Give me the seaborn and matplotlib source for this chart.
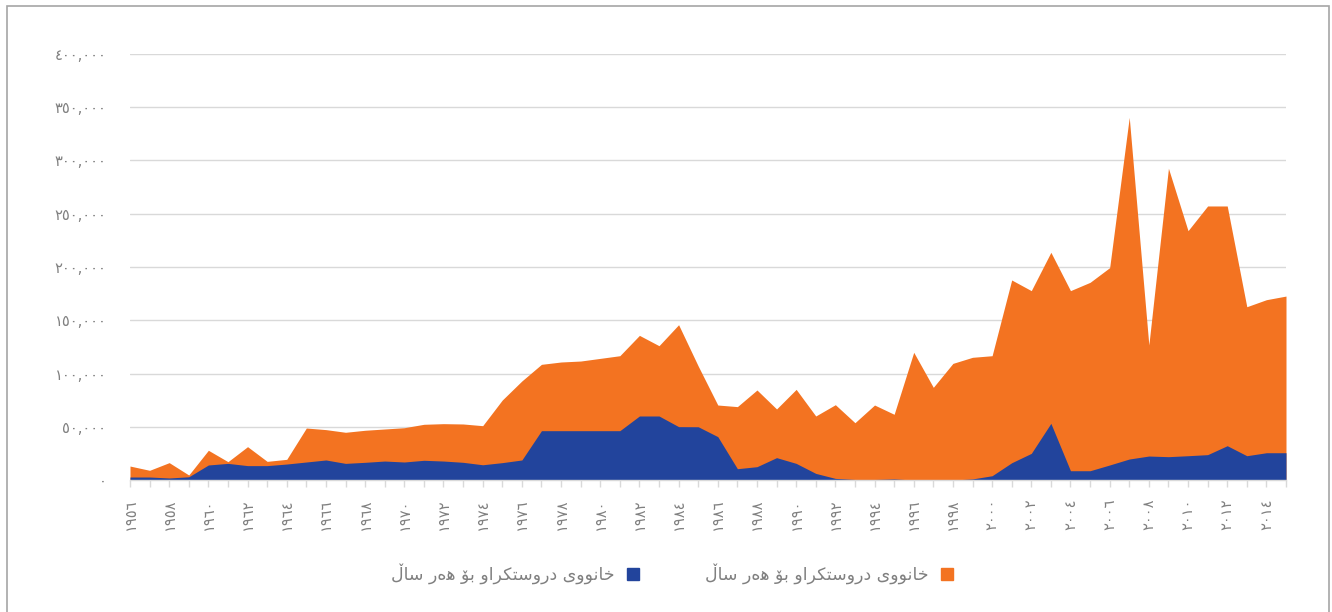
import matplotlib
matplotlib.use("Agg")
import matplotlib.pyplot as plt
from matplotlib.patches import Rectangle, Patch
import seaborn as sns

# years 1956 - 2015
years = list(range(1956, 2016))

# top of the orange area (houses built per year)
orange_vals = [13100, 9100, 16300, 4700, 27900, 17200, 31300, 17500, 19400, 48800,
               47300, 44800, 46700, 47900, 49100, 52300, 52900, 52600, 51000, 75100,
               93000, 108600, 110800, 111700, 114200, 116700, 135800, 126100, 145800, 107000,
               70400, 68900, 84500, 66700, 85100, 60100, 70700, 53800, 70400, 61700,
               119900, 87000, 109500, 115200, 116700, 187800, 177800, 213800, 177800, 185600,
               199400, 340500, 126800, 292700, 234100, 257300, 257300, 162700, 169300, 172700]

# blue area
blue_vals = [2800, 2800, 1900, 3000, 14100, 15600, 13500, 13500, 15000, 16900,
             18800, 15600, 16600, 17800, 16900, 18500, 17800, 16600, 14300, 16300,
             18800, 46300, 46300, 46300, 46300, 46300, 60100, 60100, 50100, 50000,
             40700, 10600, 12500, 21000, 15600, 6200, 1500, 500, 500, 1000,
             0, 0, 0, 1000, 4000, 16200, 25000, 53200, 8700, 8700,
             14100, 19700, 22500, 21900, 22800, 23800, 32200, 22800, 25600, 25600]

y_ticks = [0, 50000, 100000, 150000, 200000, 250000, 300000, 350000, 400000]
legend_label = "خانووی دروستکراو بۆ هەر ساڵ"

ORANGE = "#F37321"
BLUE = "#22449C"
GRAY_TXT = "#808080"

AR_DIGITS = "٠١٢٣٤٥٦٧٨٩"


def to_ar(s):
    return "".join(AR_DIGITS[int(c)] if c.isdigit() else c for c in s)


# (isolated, final, initial, medial); 2-tuple -> joins only to the right
FORMS = {
    "خ": ("\uFEA5", "\uFEA6", "\uFEA7", "\uFEA8"),
    "ا": ("\uFE8D", "\uFE8E"),
    "ن": ("\uFEE5", "\uFEE6", "\uFEE7", "\uFEE8"),
    "و": ("\uFEED", "\uFEEE"),
    "ی": ("\uFBFC", "\uFBFD", "\uFBFE", "\uFBFF"),
    "د": ("\uFEA9", "\uFEAA"),
    "ر": ("\uFEAD", "\uFEAE"),
    "س": ("\uFEB1", "\uFEB2", "\uFEB3", "\uFEB4"),
    "ت": ("\uFE95", "\uFE96", "\uFE97", "\uFE98"),
    "ک": ("\uFB8E", "\uFB8F", "\uFB90", "\uFB91"),
    "ب": ("\uFE8F", "\uFE90", "\uFE91", "\uFE92"),
    "ۆ": ("\uFBD9", "\uFBDA"),
    "ه": ("\uFEE9", "\uFEEA", "\uFEEB", "\uFEEC"),
    "ە": ("\u06D5", "\u06D5"),
    "ڵ": ("\u06B5", "\u06B5", "\u06B5", "\u06B5"),
}


def shape(text):
    # simple arabic-script shaping + right-to-left ordering for matplotlib
    out = []
    for i, ch in enumerate(text):
        if ch not in FORMS:
            out.append(ch)
            continue
        prev = text[i - 1] if i > 0 else ""
        nxt = text[i + 1] if i + 1 < len(text) else ""
        join_prev = prev in FORMS and len(FORMS[prev]) == 4
        join_next = len(FORMS[ch]) == 4 and nxt in FORMS
        f = FORMS[ch]
        if join_prev and join_next:
            out.append(f[3])
        elif join_next:
            out.append(f[2])
        elif join_prev:
            out.append(f[1])
        else:
            out.append(f[0])
    return "".join(reversed(out))


sns.set_theme(style="white")
plt.rcParams["font.family"] = ["DejaVu Sans"]

fig = plt.figure(figsize=(13.32, 6.12), dpi=100)
ax = fig.add_axes([130 / 1332, 1 - 480 / 612, 1156 / 1332, 426 / 612])

x = list(range(len(years)))
ax.fill_between(x, 0, orange_vals, color=ORANGE, linewidth=0, zorder=2)
ax.fill_between(x, 0, blue_vals, color=BLUE, linewidth=0, zorder=3)

ax.set_xlim(0, len(years) - 1)
ax.set_ylim(0, 400000)
ax.set_yticks(y_ticks)
ax.set_yticklabels([to_ar(f"{v:,}") for v in y_ticks], color=GRAY_TXT, fontsize=10.5)
ax.yaxis.grid(True, color="#D9D9D9", linewidth=1, zorder=0)
ax.set_axisbelow(True)

ax.set_xticks(x)
ax.set_xticklabels([to_ar(str(y)) if (y - 1956) % 2 == 0 else "" for y in years],
                   rotation=90, color=GRAY_TXT, fontsize=10.5)
ax.tick_params(axis="x", bottom=True, length=5, width=1, color="#D9D9D9", pad=8)
ax.tick_params(axis="y", left=False, length=0, pad=17)

for s in ["top", "right", "left"]:
    ax.spines[s].set_visible(False)
ax.spines["bottom"].set_color("#D9D9D9")
ax.spines["bottom"].set_linewidth(1)
ax.spines["bottom"].set_zorder(4)

# legend (right-to-left: marker after text, orange first on the right)
lab = shape(legend_label)
handles = [Patch(color=BLUE, label=lab), Patch(color=ORANGE, label=lab)]
fig.legend(handles=handles, loc="center", bbox_to_anchor=(672 / 1332, 1 - 574 / 612),
           ncol=2, frameon=False, markerfirst=False, fontsize=12.5,
           handlelength=0.7, handleheight=0.7, handletextpad=0.7, columnspacing=3.8,
           labelcolor=GRAY_TXT)

# chart border
fig.add_artist(Rectangle((7 / 1332, -0.02), 1322 / 1332, 1 - 6 / 612 + 0.02,
                         transform=fig.transFigure, fill=False,
                         edgecolor="#A6A6A6", linewidth=1.2))

fig.savefig("out.png", dpi=100)
